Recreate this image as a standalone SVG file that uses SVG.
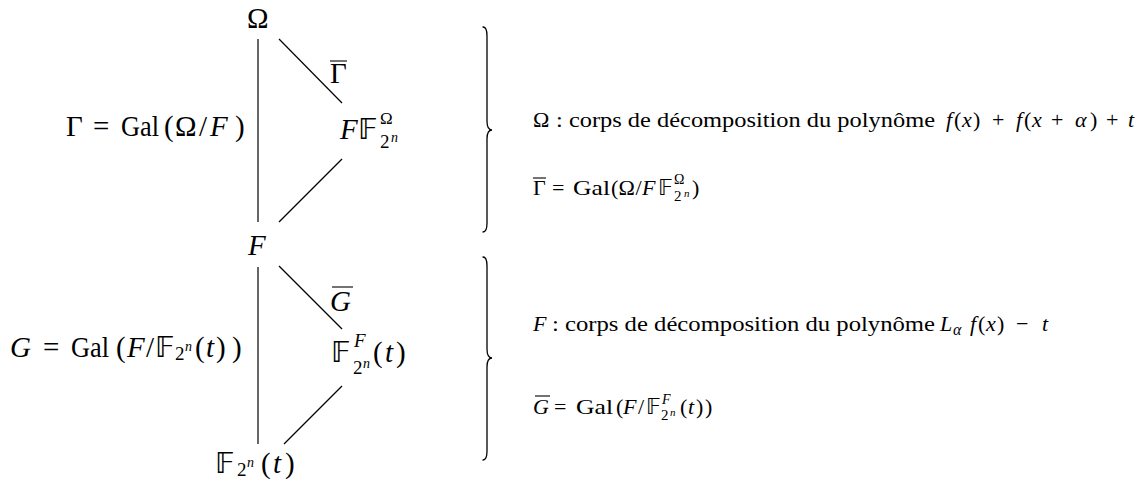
<svg xmlns="http://www.w3.org/2000/svg" width="1140" height="489" viewBox="0 0 1140 489">
<style>
  .t { font-family: "Liberation Serif", "DejaVu Serif", serif; fill: #000; }
  .big { font-size: 29px; }
  .sm { font-size: 22px; }
  .i { font-style: italic; }
  .bb { font-family: "DejaVu Sans", "DejaVu Serif", sans-serif; font-style: normal; }
  .ln { stroke: #000; stroke-width: 1.2; fill: none; }
  .bar { stroke: #000; stroke-width: 1.1; }
  .brace { stroke: #000; stroke-width: 1.3; fill: none; stroke-linecap: round; }
</style>
<rect width="1140" height="489" fill="#fff"/>

<g id="connectors">
  <line class="ln" x1="258" y1="39" x2="258" y2="222"/>
  <line class="ln" x1="279" y1="39" x2="342" y2="103"/>
  <line class="ln" x1="342" y1="159" x2="279" y2="222"/>
  <line class="ln" x1="258" y1="267" x2="258" y2="444"/>
  <line class="ln" x1="279" y1="266" x2="342" y2="329"/>
  <line class="ln" x1="342" y1="386" x2="284" y2="444"/>
  <g id="edge-label-gammabar">
    <line class="bar" x1="330" y1="61" x2="347" y2="61"/>
    <text class="t big" x="330" y="83">Γ</text>
  </g>
  <g id="edge-label-gbar">
    <line class="bar" x1="332" y1="287" x2="353" y2="287"/>
    <text class="t big i" x="330" y="311">G</text>
  </g>
</g>

<g id="node-omega">
  <text class="t big" x="247" y="28">Ω</text>
</g>

<g id="node-FFomega">
  <text class="t big" y="139"><tspan class="i" x="340">F</tspan><tspan class="bb" x="358">𝔽</tspan><tspan x="380" y="124" font-size="17">Ω</tspan><tspan x="380" y="148" font-size="19">2</tspan><tspan class="i" x="391" y="142" font-size="14">n</tspan></text>
</g>

<g id="node-F">
  <text class="t big i" x="248" y="255">F</text>
</g>

<g id="node-F2nF-t">
  <text class="t big" y="362"><tspan class="bb" x="331">𝔽</tspan><tspan class="i" x="354" y="347" font-size="19">F</tspan><tspan x="353" y="374" font-size="19">2</tspan><tspan class="i" x="363" y="368" font-size="14">n</tspan><tspan x="373" y="362">(</tspan><tspan class="i" x="385" y="362">t</tspan><tspan x="396" y="362">)</tspan></text>
</g>

<g id="node-F2n-t">
  <text class="t big" y="473"><tspan class="bb" x="215">𝔽</tspan><tspan x="237" y="476" font-size="19">2</tspan><tspan class="i" x="247" y="467" font-size="14">n</tspan><tspan x="261" y="473">(</tspan><tspan class="i" x="273" y="473">t</tspan><tspan x="285" y="473">)</tspan></text>
</g>

<g id="label-Gamma">
  <text class="t big" y="136"><tspan x="66">Γ</tspan><tspan x="93">=</tspan><tspan x="121" textLength="38" lengthAdjust="spacingAndGlyphs">Gal</tspan><tspan x="164">(</tspan><tspan x="175">Ω</tspan><tspan x="199">/</tspan><tspan class="i" x="210">F</tspan><tspan x="235">)</tspan></text>
</g>

<g id="label-G">
  <text class="t big" y="357"><tspan class="i" x="10">G</tspan><tspan x="43">=</tspan><tspan x="71" textLength="38" lengthAdjust="spacingAndGlyphs">Gal</tspan><tspan x="116">(</tspan><tspan class="i" x="127">F</tspan><tspan x="146">/</tspan><tspan class="bb" x="155">𝔽</tspan><tspan x="175" y="360" font-size="19">2</tspan><tspan class="i" x="185" y="351" font-size="14">n</tspan><tspan x="195" y="357">(</tspan><tspan class="i" x="206" y="357">t</tspan><tspan x="216" y="357">)</tspan><tspan x="232" y="357">)</tspan></text>
</g>

<g id="braces">
  <path class="brace" d="M 483 27 C 486 27, 487 30, 487 36 L 487 121 C 487 127, 489 130, 492 130 C 489 130, 487 133, 487 139 L 487 223 C 487 229, 486 232, 483 232"/>
  <path class="brace" d="M 483 257 C 486 257, 487 260, 487 266 L 487 349 C 487 355, 489 358, 492 358 C 489 358, 487 361, 487 367 L 487 451 C 487 457, 486 460, 483 460"/>
</g>

<g id="note-omega">
  <text class="t sm" y="127"><tspan x="533">Ω</tspan><tspan x="556" textLength="379" lengthAdjust="spacingAndGlyphs">: corps de décomposition du polynôme</tspan><tspan class="i" x="946">f</tspan><tspan x="954">(</tspan><tspan class="i" x="962">x</tspan><tspan x="973">)</tspan><tspan x="992">+</tspan><tspan class="i" x="1016">f</tspan><tspan x="1024">(</tspan><tspan class="i" x="1032">x</tspan><tspan x="1051">+</tspan><tspan class="i" x="1075">α</tspan><tspan x="1090">)</tspan><tspan x="1106">+</tspan><tspan class="i" x="1128">t</tspan></text>
</g>

<g id="note-gammabar">
  <line class="bar" x1="533" y1="178" x2="546" y2="178"/>
  <text class="t sm" y="195"><tspan x="533">Γ</tspan><tspan x="552">=</tspan><tspan x="573" textLength="37" lengthAdjust="spacingAndGlyphs">Gal</tspan><tspan x="611">(</tspan><tspan x="618.5">Ω</tspan><tspan x="635.5">/</tspan><tspan class="i" x="642">F</tspan><tspan class="bb" x="658">𝔽</tspan><tspan x="674" y="184" font-size="14">Ω</tspan><tspan x="674" y="201" font-size="15">2</tspan><tspan class="i" x="684" y="197" font-size="11">n</tspan><tspan x="692" y="195">)</tspan></text>
</g>

<g id="note-F">
  <text class="t sm" y="331"><tspan class="i" x="533">F</tspan><tspan x="552" textLength="383" lengthAdjust="spacingAndGlyphs">: corps de décomposition du polynôme</tspan><tspan class="i" x="940">L</tspan><tspan class="i" x="953" y="335" font-size="16">α</tspan><tspan class="i" x="970" y="331">f</tspan><tspan x="978" y="331">(</tspan><tspan class="i" x="986" y="331">x</tspan><tspan x="997" y="331">)</tspan><tspan x="1016" y="331">−</tspan><tspan class="i" x="1042" y="331">t</tspan></text>
</g>

<g id="note-gbar">
  <line class="bar" x1="535" y1="396" x2="550" y2="396"/>
  <text class="t sm" y="414"><tspan class="i" x="533">G</tspan><tspan x="554">=</tspan><tspan x="576" textLength="37" lengthAdjust="spacingAndGlyphs">Gal</tspan><tspan x="616">(</tspan><tspan class="i" x="623">F</tspan><tspan x="638">/</tspan><tspan class="bb" x="646">𝔽</tspan><tspan class="i" x="662" y="404" font-size="14">F</tspan><tspan x="661" y="420" font-size="15">2</tspan><tspan class="i" x="670" y="416" font-size="11">n</tspan><tspan x="680" y="414">(</tspan><tspan class="i" x="688" y="414">t</tspan><tspan x="696" y="414">)</tspan><tspan x="705" y="414">)</tspan></text>
</g>
</svg>
